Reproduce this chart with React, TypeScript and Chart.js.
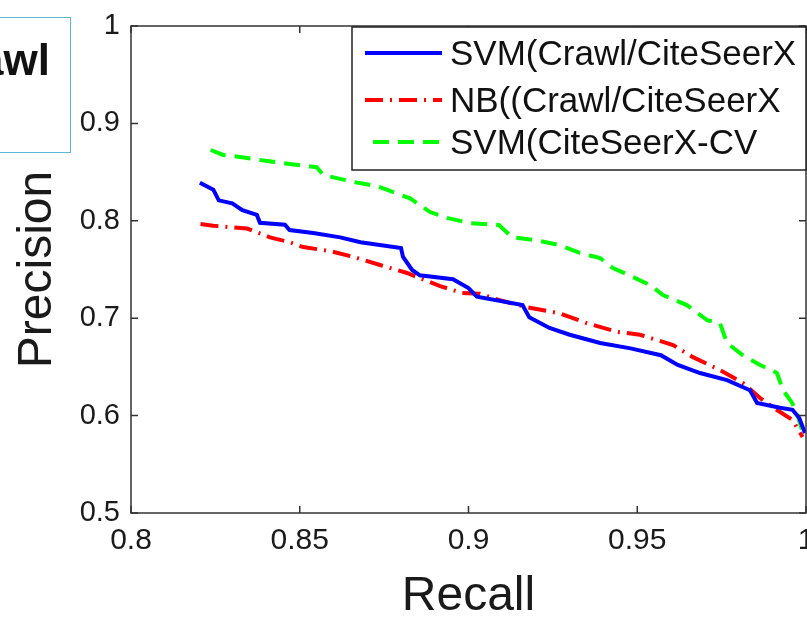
import React, { useEffect, useRef } from "react";
import { Chart, registerables } from "chart.js";

Chart.register(...registerables);

// ---- data ----
const svmCrawlRecall = [0.8204, 0.8244, 0.826, 0.83, 0.833, 0.8373, 0.8382, 0.8456, 0.847, 0.854, 0.862, 0.868, 0.88, 0.8806, 0.8833, 0.8856, 0.8954, 0.9, 0.9025, 0.916, 0.918, 0.924, 0.93, 0.939, 0.948, 0.957, 0.962, 0.9686, 0.9766, 0.9834, 0.9855, 0.9923, 0.996, 0.998, 0.9997];
const svmCrawlPrecision = [0.839, 0.832, 0.821, 0.818, 0.811, 0.806, 0.798, 0.796, 0.7905, 0.7875, 0.783, 0.778, 0.772, 0.763, 0.7495, 0.744, 0.74, 0.731, 0.722, 0.7135, 0.701, 0.69, 0.683, 0.6745, 0.669, 0.662, 0.652, 0.6437, 0.6365, 0.626, 0.613, 0.608, 0.606, 0.5975, 0.582];

const nbCrawlRecall = [0.8206, 0.8243, 0.8344, 0.8412, 0.847, 0.851, 0.859, 0.8658, 0.8738, 0.8818, 0.8856, 0.8916, 0.898, 0.9034, 0.909, 0.917, 0.927, 0.935, 0.944, 0.9508, 0.9606, 0.9665, 0.9745, 0.9813, 0.9864, 0.9914, 0.996, 0.999];
const nbCrawlPrecision = [0.7967, 0.795, 0.792, 0.783, 0.778, 0.773, 0.769, 0.763, 0.7546, 0.7464, 0.741, 0.733, 0.726, 0.725, 0.7187, 0.7115, 0.705, 0.695, 0.686, 0.683, 0.6725, 0.66, 0.6468, 0.6335, 0.618, 0.6057, 0.5955, 0.578];

const svmCvRecall = [0.8236, 0.8273, 0.8323, 0.8403, 0.847, 0.855, 0.857, 0.8658, 0.873, 0.8827, 0.8886, 0.8936, 0.9004, 0.909, 0.913, 0.92, 0.927, 0.933, 0.939, 0.9428, 0.9487, 0.9538, 0.9576, 0.9647, 0.9707, 0.9745, 0.9766, 0.9813, 0.9864, 0.9914, 0.9932, 0.9959, 0.9973, 0.9991];
const svmCvPrecision = [0.8727, 0.8676, 0.8655, 0.8614, 0.8583, 0.855, 0.847, 0.84, 0.8355, 0.823, 0.809, 0.803, 0.7977, 0.7957, 0.783, 0.78, 0.775, 0.767, 0.7618, 0.7515, 0.7423, 0.734, 0.7238, 0.7135, 0.698, 0.695, 0.6745, 0.662, 0.652, 0.6437, 0.626, 0.613, 0.6027, 0.582];

const seriesLabels = ["SVM(Crawl/CiteSeerX", "NB((Crawl/CiteSeerX", "SVM(CiteSeerX-CV"];
const xTicks = [0.8, 0.85, 0.9, 0.95, 1];
const yTicks = [0.5, 0.6, 0.7, 0.8, 0.9, 1];
const xTickLabels = ["0.8", "0.85", "0.9", "0.95", "1"];
const yTickLabels = ["0.5", "0.6", "0.7", "0.8", "0.9", "1"];
const xTitle = "Recall";
const yTitle = "Precision";
const overlayText = "Crawl";

const FONT = "'Liberation Sans', Arial, Helvetica, sans-serif";

const zip = (xs: number[], ys: number[]) => xs.map((x, i) => ({ x, y: ys[i] }));

const framePlugin = {
  id: "frameAndLegend",
  afterDatasetsDraw(chart: any) {
    const { ctx, chartArea: a, scales } = chart;
    ctx.save();
    // axes box
    ctx.strokeStyle = "#333";
    ctx.lineWidth = 1.5;
    ctx.setLineDash([]);
    ctx.strokeRect(a.left, a.top, a.right - a.left, a.bottom - a.top);
    const L = 7;
    ctx.beginPath();
    xTicks.forEach((v) => {
      const px = scales.x.getPixelForValue(v);
      ctx.moveTo(px, a.bottom);
      ctx.lineTo(px, a.bottom - L);
      ctx.moveTo(px, a.top);
      ctx.lineTo(px, a.top + L);
    });
    yTicks.forEach((v) => {
      const py = scales.y.getPixelForValue(v);
      ctx.moveTo(a.left, py);
      ctx.lineTo(a.left + L, py);
      ctx.moveTo(a.right, py);
      ctx.lineTo(a.right - L, py);
    });
    ctx.stroke();

    // legend
    const w = 454;
    const h = 143;
    const lx = a.right - w;
    const ly = a.top + 1;
    ctx.fillStyle = "#fff";
    ctx.fillRect(lx, ly, w, h);
    ctx.strokeStyle = "#222";
    ctx.lineWidth = 1.5;
    ctx.strokeRect(lx, ly, w, h);
    const rows = [26, 73, 115];
    chart.data.datasets.forEach((ds: any, i: number) => {
      const y = ly + rows[i];
      ctx.strokeStyle = ds.borderColor;
      ctx.lineWidth = ds.borderWidth;
      ctx.setLineDash(ds.borderDash || []);
      ctx.beginPath();
      ctx.moveTo(lx + (i === 2 ? 21 : 13), y);
      ctx.lineTo(lx + 90, y);
      ctx.stroke();
      ctx.setLineDash([]);
      ctx.fillStyle = "#111";
      ctx.font = `35px ${FONT}`;
      ctx.textBaseline = "middle";
      ctx.textAlign = "left";
      ctx.fillText(ds.label, lx + 98, y + 2);
    });
    ctx.restore();
  },
};

export default function App() {
  const ref = useRef<HTMLCanvasElement>(null);

  useEffect(() => {
    document.body.style.margin = "0";
    const canvas = ref.current;
    if (!canvas) return;
    const chart = new Chart(canvas, {
      type: "line",
      data: {
        datasets: [
          {
            label: seriesLabels[0],
            data: zip(svmCrawlRecall, svmCrawlPrecision),
            borderColor: "#0000ff",
            borderWidth: 4,
            pointRadius: 0,
            tension: 0,
            fill: false,
          },
          {
            label: seriesLabels[1],
            data: zip(nbCrawlRecall, nbCrawlPrecision),
            borderColor: "#ff0000",
            borderWidth: 4,
            borderDash: [18, 7, 2, 7],
            pointRadius: 0,
            tension: 0,
            fill: false,
          },
          {
            label: seriesLabels[2],
            data: zip(svmCvRecall, svmCvPrecision),
            borderColor: "#00ff00",
            borderWidth: 4,
            borderDash: [16, 9],
            pointRadius: 0,
            tension: 0,
            fill: false,
          },
        ],
      },
      options: {
        animation: false,
        responsive: false,
        maintainAspectRatio: false,
        layout: { padding: { top: 26, right: 1, left: 0, bottom: 0 } },
        plugins: { legend: { display: false }, tooltip: { enabled: false } },
        scales: {
          x: {
            type: "linear",
            position: "bottom",
            min: 0.8,
            max: 1,
            grid: { display: false, drawTicks: false, tickLength: 0 },
            border: { display: false },
            afterBuildTicks: (s: any) => {
              s.ticks = xTicks.map((v) => ({ value: v }));
            },
            afterFit: (s: any) => {
              s.height = 104;
              s.paddingLeft = 0;
              s.paddingRight = 0;
            },
            ticks: {
              autoSkip: false,
              maxRotation: 0,
              minRotation: 0,
              padding: 10,
              color: "#1a1a1a",
              font: { family: FONT, size: 30 },
              callback: (_v: any, i: number) => xTickLabels[i],
            },
            title: {
              display: true,
              text: xTitle,
              color: "#1a1a1a",
              font: { family: FONT, size: 48, lineHeight: 0.85 },
              padding: { top: 0, bottom: 0 },
            },
          },
          y: {
            type: "linear",
            position: "left",
            min: 0.5,
            max: 1,
            grid: { display: false, drawTicks: false, tickLength: 0 },
            border: { display: false },
            afterBuildTicks: (s: any) => {
              s.ticks = yTicks.map((v) => ({ value: v }));
            },
            afterFit: (s: any) => {
              s.width = 131;
              s.paddingTop = 0;
              s.paddingBottom = 0;
            },
            ticks: {
              autoSkip: false,
              padding: 11,
              color: "#1a1a1a",
              font: { family: FONT, size: 29 },
              callback: (_v: any, i: number) => yTickLabels[i],
            },
            title: {
              display: true,
              text: yTitle,
              color: "#1a1a1a",
              font: { family: FONT, size: 48, lineHeight: 1 },
              padding: { top: 14, bottom: 0 },
            },
          },
        },
      },
      plugins: [framePlugin],
    } as any);
    return () => chart.destroy();
  }, []);

  return (
    <div style={{ position: "relative", width: 807, height: 617, overflow: "hidden", background: "#fff" }}>
      <canvas ref={ref} width={807} height={617} style={{ display: "block" }} />
      <div
        style={{
          position: "absolute",
          left: -10,
          top: 17,
          width: 81,
          height: 136,
          border: "1.5px solid #5cb8d4",
          boxSizing: "border-box",
        }}
      />
      <div
        style={{
          position: "absolute",
          right: 757,
          top: 38,
          font: `bold 44px ${FONT}`,
          lineHeight: "44px",
          whiteSpace: "nowrap",
          color: "#111",
        }}
      >
        {overlayText}
      </div>
    </div>
  );
}
